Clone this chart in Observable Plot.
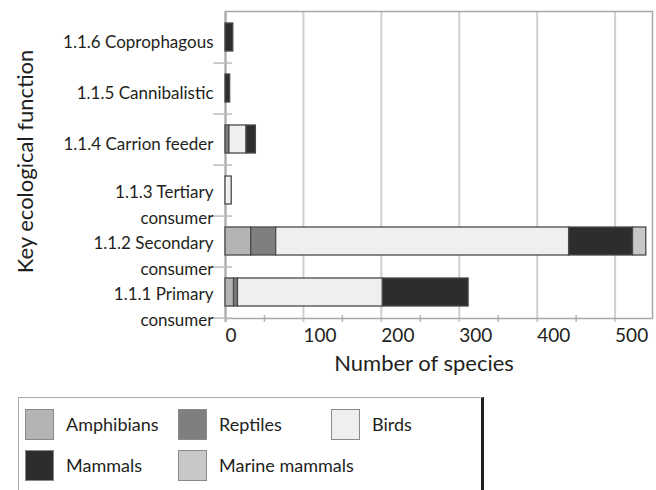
<!DOCTYPE html>
<html>
<head>
<meta charset="utf-8">
<script src="https://cdn.jsdelivr.net/npm/d3@7"></script>
<script src="https://cdn.jsdelivr.net/npm/@observablehq/plot@0.6"></script>
<style>
  body { margin: 0; background: #fff; font-family: Lato, "Open Sans", sans-serif; color: #231f20; }
  #chart { position: relative; width: 656px; height: 490px; overflow: hidden; }
  #chart svg { display: block; }
  .legend { position: absolute; left: 18px; top: 397px; width: 462px; height: 120px;
            border: 1.5px solid #aaa; border-right: 3px solid #1e1e1e; background: #fff; }
  .item { position: absolute; display: flex; align-items: center; font-size: 18px; }
  .sw { width: 27px; height: 29px; border: 1.5px solid #8a8a8a; margin-right: 12px; box-sizing: content-box; }
</style>
</head>
<body>
<div id="chart"></div>
<script>
const categories = [
  "1.1.6 Coprophagous",
  "1.1.5 Cannibalistic",
  "1.1.4 Carrion feeder",
  "1.1.3 Tertiary consumer",
  "1.1.2 Secondary consumer",
  "1.1.1 Primary consumer"
];
const yLabels = [
  "1.1.6 Coprophagous",
  "1.1.5 Cannibalistic",
  "1.1.4 Carrion feeder",
  "1.1.3 Tertiary\nconsumer",
  "1.1.2 Secondary\nconsumer",
  "1.1.1 Primary\nconsumer"
];
const seriesNames = ["Amphibians", "Reptiles", "Birds", "Mammals", "Marine mammals"];
const seriesColors = ["#b4b4b4", "#7f7f7f", "#efefef", "#2e2c2d", "#c8c8c8"];
const amphibians    = [0, 0, 0, 0, 33, 11];
const reptiles      = [0, 0, 5, 0, 32, 5];
const birds         = [0, 0, 22, 8, 376, 186];
const mammals       = [10, 6, 12, 0, 82, 110];
const marineMammals = [0, 0, 0, 0, 17, 0];
const xTicks = [0, 100, 200, 300, 400, 500];
const xMinorTicks = [50, 150, 250, 350, 450];

const seriesValues = [amphibians, reptiles, birds, mammals, marineMammals];
const data = seriesNames.flatMap((s, si) =>
  categories.map((c, ci) => ({category: c, series: s, value: seriesValues[si][ci]}))
).filter(d => d.value > 0);

const labelRows = categories.map((c, i) => ({category: c, label: yLabels[i]}));
const step = (318 - 11) / 6;

const plot = Plot.plot({
  width: 656,
  height: 392,
  marginLeft: 225,
  marginRight: 4,
  marginTop: 11,
  marginBottom: 74,
  style: {fontFamily: "Lato, 'Open Sans', sans-serif", color: "#231f20", background: "#fff", overflow: "visible"},
  x: {domain: [0, 548], axis: null},
  y: {domain: categories, paddingInner: 0.46, paddingOuter: 0.23, axis: null},
  color: {domain: seriesNames, range: seriesColors},
  marks: [
    Plot.ruleX(xTicks.slice(1), {stroke: "#cfcfcf", strokeWidth: 2, insetBottom: -4}),
    Plot.ruleX(xMinorTicks, {stroke: "#b5b5b5", strokeWidth: 1.5, insetTop: 304, insetBottom: -4}),
    Plot.frame({stroke: "#a8a8a8", strokeWidth: 1.5}),
    Plot.ruleX([0], {stroke: "#a8a8a8", strokeWidth: 2, insetBottom: -4}),
    Plot.ruleY(categories, {y: d => d, dy: step / 2, x1: -15, x2: 9, stroke: "#bdbdbd", strokeWidth: 1.5}),
    Plot.barX(data, Plot.stackX({
      y: "category", x: "value", fill: "series", order: seriesNames,
      stroke: "#4a4a4a", strokeWidth: 1.3
    })),
    Plot.axisX(xTicks, {tickSize: 0, tickPadding: 10, textAnchor: "start", fontSize: 19, label: null}),
    Plot.text(labelRows.filter(d => !d.label.includes("\n")), {
      y: "category", text: "label", frameAnchor: "left", textAnchor: "end",
      lineAnchor: "middle", dx: -12, dy: 5, fontSize: 17, fill: "#231f20"
    }),
    Plot.text(labelRows.filter(d => d.label.includes("\n")), {
      y: "category", text: "label", frameAnchor: "left", textAnchor: "end",
      lineAnchor: "middle", lineHeight: 1.5, dx: -12, dy: 12.3, fontSize: 17, fill: "#231f20"
    }),
    Plot.text(["Number of species"], {
      frameAnchor: "bottom", textAnchor: "middle", lineAnchor: "middle", dx: -15, dy: 45.5, fontSize: 22, fill: "#231f20"
    }),
    Plot.text(["Key ecological function"], {
      frameAnchor: "left", textAnchor: "middle", lineAnchor: "middle", rotate: -90, dx: -200, dy: -3.5, fontSize: 22, fill: "#231f20"
    })
  ]
});

const chart = document.getElementById("chart");
chart.appendChild(plot);

const legend = document.createElement("div");
legend.className = "legend";
const cols = [6, 159, 312];
const rows = [10.5, 51.5];
seriesNames.forEach((s, i) => {
  const item = document.createElement("div");
  item.className = "item";
  item.style.left = cols[i % 3] + "px";
  item.style.top = rows[Math.floor(i / 3)] + "px";
  const sw = document.createElement("div");
  sw.className = "sw";
  sw.style.background = seriesColors[i];
  const t = document.createElement("span");
  t.textContent = s;
  item.appendChild(sw);
  item.appendChild(t);
  legend.appendChild(item);
});
chart.appendChild(legend);
</script>
</body>
</html>
